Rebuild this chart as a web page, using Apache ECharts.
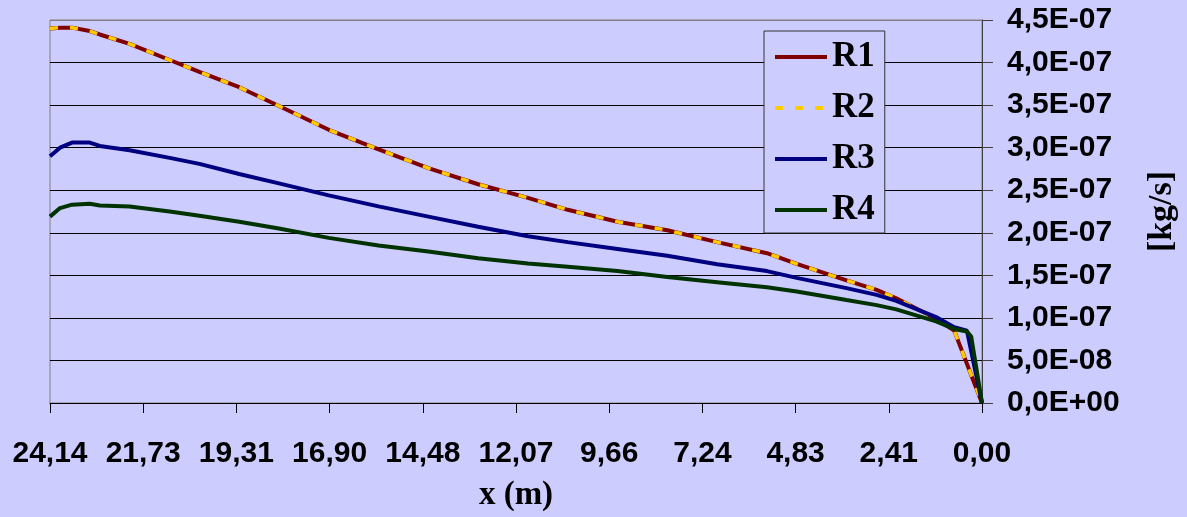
<!DOCTYPE html>
<html>
<head>
<meta charset="utf-8">
<script src="https://cdn.jsdelivr.net/npm/echarts@6/dist/echarts.min.js"></script>
<style>
html,body{margin:0;padding:0;background:#CCCCFF;}
#chart{width:1187px;height:517px;}
</style>
</head>
<body>
<div id="chart"></div>
<script>
// x positions in metres
const xValues = [24.14, 23.88, 23.57, 23.11, 22.85, 22.08, 21.04, 20.27, 19.24, 18.21, 16.92, 15.63, 14.34, 13.05, 11.76, 10.73, 9.44, 8.15, 6.86, 5.57, 4.80, 3.51, 2.73, 2.22, 1.19, 0.72, 0.39, 0.28, 0.00];
// values in units of 1E-07 kg/s
const r1 = [4.40, 4.41, 4.41, 4.37, 4.33, 4.22, 4.03, 3.89, 3.71, 3.49, 3.21, 2.98, 2.76, 2.57, 2.41, 2.27, 2.13, 2.03, 1.89, 1.76, 1.635, 1.44, 1.33, 1.23, 0.99, 0.85, 0.46, 0.33, 0.00];
const r2 = [4.40, 4.41, 4.41, 4.37, 4.33, 4.22, 4.03, 3.89, 3.71, 3.49, 3.21, 2.98, 2.76, 2.57, 2.41, 2.27, 2.13, 2.03, 1.89, 1.76, 1.635, 1.44, 1.33, 1.23, 0.99, 0.85, 0.46, 0.33, 0.00];
const r3 = [2.90, 3.00, 3.06, 3.06, 3.02, 2.97, 2.88, 2.81, 2.69, 2.58, 2.44, 2.31, 2.19, 2.07, 1.96, 1.89, 1.81, 1.73, 1.63, 1.55, 1.47, 1.35, 1.27, 1.20, 1.01, 0.89, 0.85, 0.61, 0.00];
const r4 = [2.19, 2.29, 2.33, 2.34, 2.32, 2.31, 2.25, 2.20, 2.13, 2.05, 1.94, 1.85, 1.78, 1.70, 1.64, 1.60, 1.55, 1.48, 1.42, 1.36, 1.31, 1.21, 1.15, 1.10, 0.96, 0.87, 0.84, 0.78, 0.00];
const seriesNames = ['R1', 'R2', 'R3', 'R4'];
const xMax = 24.14, xStep = 2.414;
const yMax = 4.5, yStep = 0.5;

function fmtY(v) {
  if (Math.abs(v) < 1e-9) return '0,0E+00';
  if (v < 1) return (v * 10).toFixed(1).replace('.', ',') + 'E-08';
  return v.toFixed(1).replace('.', ',') + 'E-07';
}
function pairs(arr) { return xValues.map((x, i) => [x, arr[i]]); }

const sans = "'Liberation Sans', Arial, sans-serif";
const serif = "'Liberation Serif', 'Times New Roman', serif";

const splitColors = [];
for (let i = 0; i < 10; i++) splitColors.push(i === 9 ? '#808080' : '#000000');

const chart = echarts.init(document.getElementById('chart'), null, {renderer: 'canvas'});
chart.setOption({
  backgroundColor: '#CCCCFF',
  animation: false,
  grid: {left: 50, right: 201, top: 20, bottom: 107, show: true, borderColor: '#808080', borderWidth: 1, backgroundColor: 'transparent'},
  legend: {
    left: 764, top: 31, orient: 'vertical',
    backgroundColor: '#CCCCFF', borderColor: '#333333', borderWidth: 1,
    padding: [6, 10, 3, 9], itemGap: 11, itemWidth: 52, itemHeight: 10,
    itemStyle: {opacity: 0},
    lineStyle: {width: 4},
    textStyle: {fontFamily: serif, fontWeight: 'bold', fontSize: 35, color: '#000', lineHeight: 40},
    data: seriesNames
  },
  xAxis: {
    type: 'value', inverse: true, min: 0, max: xMax, interval: xStep,
    name: 'x (m)', nameLocation: 'middle', nameGap: 76,
    nameTextStyle: {fontFamily: serif, fontWeight: 'bold', fontSize: 33, color: '#000'},
    axisLine: {show: true, onZero: false, lineStyle: {color: '#000', width: 1}},
    axisTick: {show: true, length: 10, inside: false, lineStyle: {color: '#000'}},
    axisLabel: {margin: 36, fontFamily: sans, fontWeight: 'bold', fontSize: 30, color: '#000',
      formatter: v => v.toFixed(2).replace('.', ',')},
    splitLine: {show: false}
  },
  yAxis: {
    type: 'value', position: 'right', min: 0, max: yMax, interval: yStep,
    name: '[kg/s]', nameLocation: 'middle', nameGap: 163, nameRotate: 90,
    nameTextStyle: {fontFamily: serif, fontWeight: 'bold', fontSize: 34, color: '#000'},
    axisLine: {show: true, lineStyle: {color: '#404040', width: 1}},
    axisTick: {show: true, length: 11, inside: false, lineStyle: {color: '#404040'}},
    axisLabel: {margin: 25, fontFamily: sans, fontWeight: 'bold', fontSize: 30, color: '#000', align: 'left',
      formatter: fmtY},
    splitLine: {show: true, lineStyle: {color: splitColors, width: 1}}
  },
  series: [
    {name: 'R1', type: 'line', data: pairs(r1), symbol: 'none', lineStyle: {color: '#800000', width: 4}, itemStyle: {color: '#800000'}},
    {name: 'R2', type: 'line', data: pairs(r2), symbol: 'none', lineStyle: {color: '#FFCC00', width: 3.5, type: [8, 12]}, itemStyle: {color: '#FFCC00'}},
    {name: 'R3', type: 'line', data: pairs(r3), symbol: 'none', lineStyle: {color: '#000080', width: 4}, itemStyle: {color: '#000080'}},
    {name: 'R4', type: 'line', data: pairs(r4), symbol: 'none', lineStyle: {color: '#003300', width: 4}, itemStyle: {color: '#003300'}}
  ]
});
</script>
</body>
</html>
